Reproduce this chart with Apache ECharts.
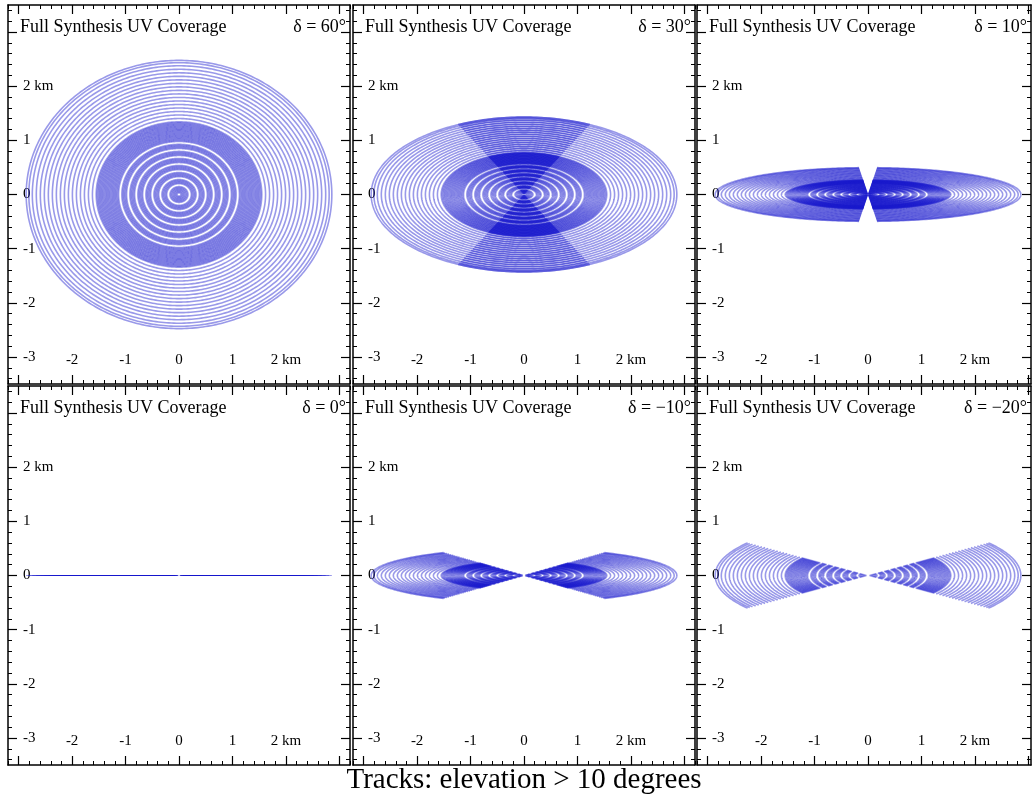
<!DOCTYPE html>
<html>
<head>
<meta charset="utf-8">
<title>Full Synthesis UV Coverage</title>
<script src="https://cdn.jsdelivr.net/npm/echarts@6.0.0/dist/echarts.min.js"></script>
<style>
  html, body { margin: 0; padding: 0; background: #fff; }
  #chart { width: 1034px; height: 797px; }
</style>
</head>
<body>
<div id="chart"></div>
<script>
// panel declinations and their labels
var declinations = [60, 30, 10, 0, -10, -20];
var decLabels = ['δ = 60°', 'δ = 30°', 'δ = 10°', 'δ = 0°', 'δ = \u221210°', 'δ = \u221220°'];
var panelTitle = 'Full Synthesis UV Coverage';
var caption = 'Tracks: elevation > 10 degrees';

// east-west baselines (km)
var innerBaselines = [
  0.036, 0.058, 0.08, 0.102, 0.124, 0.146, 0.168,
  0.231, 0.253, 0.275, 0.297, 0.319,
  0.381, 0.403, 0.425, 0.447, 0.469,
  0.531, 0.553, 0.575, 0.597, 0.619,
  0.681, 0.703, 0.725, 0.747, 0.769,
  0.831, 0.853, 0.875, 0.897, 0.919,
  0.981, 1.003, 1.025, 1.047, 1.069,
  1.131, 1.153, 1.175, 1.197, 1.219, 1.241, 1.263, 1.285, 1.307, 1.329,
  1.351, 1.373, 1.395, 1.417, 1.439, 1.461, 1.483, 1.505, 1.527, 1.549
];
var outerBaselines = [
  1.62, 1.695, 1.77, 1.845, 1.92, 1.995, 2.07, 2.145, 2.22,
  2.295, 2.37, 2.445, 2.52, 2.595, 2.67, 2.745, 2.81, 2.86
];

// axis ticks (km)
var majorTicks = [-3, -2, -1, 0, 1, 2, 3];
var xLabelTicks = [-2, -1, 0, 1, 2];
var yLabelTicks = [-3, -2, -1, 0, 1, 2];

var LATITUDE = 52.9;      // array latitude, deg
var MIN_ELEVATION = 10;   // deg
var H_STEP = Math.PI / 180;

var D2R = Math.PI / 180;
var baselines = innerBaselines.concat(outerBaselines);

function minorTicks(lo, hi) {
  var out = [];
  for (var i = 0; i < majorTicks.length; i++) {
    for (var j = -2; j <= 2; j++) {
      var t = Math.round((majorTicks[i] + j * 0.2) * 10) / 10;
      if (t >= lo && t <= hi && out.indexOf(t) < 0) out.push(t);
    }
  }
  return out;
}

var cols = [
  { left: 8, width: 342, xMax: 3.2 },
  { left: 353, width: 342, xMax: 3.2 },
  { left: 697, width: 334, xMax: 3.05 }
];
var rows = [
  { top: 5, height: 379 },
  { top: 386, height: 379 }
];
var Y_MAX = 3.5, X_MIN = -3.2;

var FONT = 'Liberation Serif';
var lineColor = 'rgba(22,22,205,0.44)';

function kmLabel(v) {
  return v === 2 ? '2 km' : String(v);
}

function renderTrack(params, api) {
  var L = api.value(0);
  var dec = api.value(1) * D2R;
  var lat = LATITUDE * D2R;
  var cosH0 = (Math.sin(MIN_ELEVATION * D2R) - Math.sin(lat) * Math.sin(dec)) /
              (Math.cos(lat) * Math.cos(dec));
  var h0;
  if (cosH0 <= -1) h0 = Math.PI;
  else if (cosH0 >= 1) return;
  else h0 = Math.acos(cosH0);
  // track plus its conjugate; a circumpolar track is one closed ellipse
  var signs = h0 >= Math.PI ? [1] : [1, -1];
  var width = dec === 0 ? 1.2 : 1.6;  // flat tracks all lie on one line
  var children = signs.map(function (s) {
    var n = Math.max(2, Math.ceil(2 * h0 / H_STEP));
    var pts = [];
    for (var i = 0; i <= n; i++) {
      var h = -h0 + 2 * h0 * i / n;
      pts.push(api.coord([s * L * Math.cos(h), s * L * Math.sin(dec) * Math.sin(h)]));
    }
    return {
      type: 'polyline',
      shape: { points: pts },
      style: { stroke: lineColor, lineWidth: width, fill: 'none' },
      silent: true
    };
  });
  return { type: 'group', children: children };
}

var grids = [], xAxes = [], yAxes = [], series = [], titles = [];

declinations.forEach(function (dec, g) {
  var col = cols[g % 3], row = rows[Math.floor(g / 3)];
  grids.push({ left: col.left, top: row.top, width: col.width, height: row.height });

  var xMinor = minorTicks(X_MIN, col.xMax);
  var yMinor = minorTicks(-Y_MAX, Y_MAX);
  var lineStyle = { color: '#000', width: 1.5 };

  ['bottom', 'top'].forEach(function (pos) {
    xAxes.push({
      gridIndex: g, type: 'value', position: pos, min: X_MIN, max: col.xMax,
      axisLine: { show: true, onZero: false, lineStyle: lineStyle },
      axisTick: { show: true, inside: true, length: 4, customValues: xMinor, lineStyle: { color: '#000', width: 1 } },
      axisLabel: { show: false },
      splitLine: { show: false }
    });
    xAxes.push({
      gridIndex: g, type: 'value', position: pos, min: X_MIN, max: col.xMax,
      axisLine: { show: false, onZero: false },
      axisTick: { show: true, inside: true, length: 9, customValues: majorTicks, lineStyle: { color: '#000', width: 1.2 } },
      axisLabel: {
        show: pos === 'bottom', inside: true, margin: 16, customValues: xLabelTicks,
        formatter: kmLabel, color: '#000', fontFamily: FONT, fontSize: 15
      },
      splitLine: { show: false }
    });
  });
  ['left', 'right'].forEach(function (pos) {
    yAxes.push({
      gridIndex: g, type: 'value', position: pos, min: -Y_MAX, max: Y_MAX,
      axisLine: { show: true, onZero: false, lineStyle: lineStyle },
      axisTick: { show: true, inside: true, length: 4, customValues: yMinor, lineStyle: { color: '#000', width: 1 } },
      axisLabel: { show: false },
      splitLine: { show: false }
    });
    yAxes.push({
      gridIndex: g, type: 'value', position: pos, min: -Y_MAX, max: Y_MAX,
      axisLine: { show: false, onZero: false },
      axisTick: { show: true, inside: true, length: 9, customValues: majorTicks, lineStyle: { color: '#000', width: 1.2 } },
      axisLabel: {
        show: pos === 'left', inside: true, margin: 15, customValues: yLabelTicks,
        formatter: kmLabel, color: '#000', fontFamily: FONT, fontSize: 15
      },
      splitLine: { show: false }
    });
  });

  series.push({
    type: 'custom',
    xAxisIndex: g * 4,
    yAxisIndex: g * 4,
    clip: true,
    silent: true,
    animation: false,
    renderItem: renderTrack,
    data: baselines.map(function (L) { return [L, dec]; })
  });

  titles.push({
    text: panelTitle, left: col.left + 12, top: row.top + 13, padding: 0,
    textStyle: { fontFamily: FONT, fontSize: 18, fontWeight: 'normal', color: '#000' }
  });
  titles.push({
    text: decLabels[g], right: 1034 - (col.left + col.width - 4), top: row.top + 13, padding: 0,
    textStyle: { fontFamily: FONT, fontSize: 18, fontWeight: 'normal', color: '#000' }
  });
});

titles.push({
  text: caption, left: 524, top: 766, padding: 0, textAlign: 'center',
  textStyle: { fontFamily: FONT, fontSize: 29, fontWeight: 'normal', color: '#000' }
});

var chart = echarts.init(document.getElementById('chart'), null, { renderer: 'canvas' });
chart.setOption({
  backgroundColor: '#fff',
  animation: false,
  title: titles,
  grid: grids,
  xAxis: xAxes,
  yAxis: yAxes,
  series: series
});
</script>
</body>
</html>
